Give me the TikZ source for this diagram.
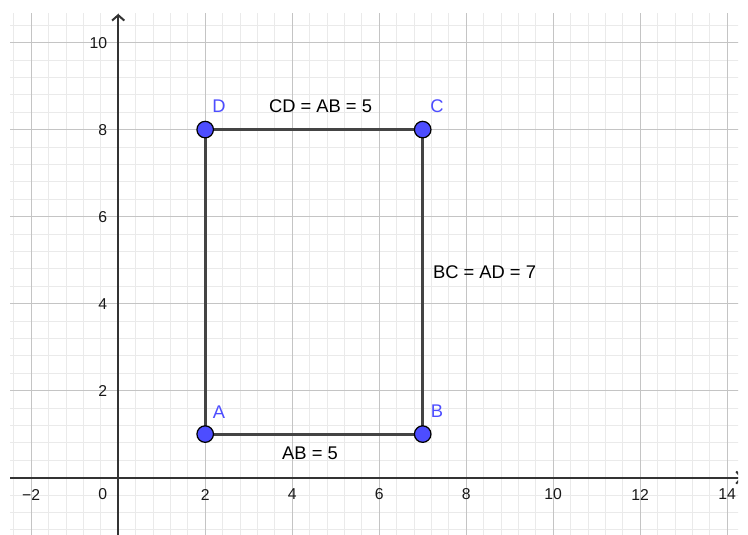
\documentclass[tikz,border=0pt]{standalone}
\usepackage{fontspec}
\setmainfont{Liberation Sans}
\usetikzlibrary{arrows.meta}
\definecolor{ptblue}{HTML}{4D4DFF}
\definecolor{seggray}{HTML}{444444}
\definecolor{axisgray}{HTML}{333333}
\definecolor{majorgray}{HTML}{C4C4C4}
\definecolor{minorgray}{HTML}{EAEAEA}
\begin{document}
\begin{tikzpicture}[x=1cm,y=1cm,
  pt/.style={circle, fill=ptblue, draw=black, line width=0.8pt, minimum size=0.38cm, inner sep=0pt},
  ptlabel/.style={text=ptblue, font=\fontsize{12}{14}\selectfont, inner sep=0pt},
  seglabel/.style={text=black, font=\fontsize{12}{14}\selectfont, inner sep=0pt},
  ticklabel/.style={text=black!90, font=\fontsize{10.3}{12}\selectfont, inner sep=0pt},
  seg/.style={draw=seggray, line width=2pt},
  minorline/.style={draw=minorgray, line width=0.6pt},
  majorline/.style={draw=majorgray, line width=0.9pt},
  axisline/.style={draw=axisgray, line width=1.3pt},
]
\useasboundingbox (-2.717,-1.3195) rectangle (14.478,10.979);
\begin{scope}
\clip (-2.487,-1.3195) rectangle (14.25,10.68);
\draw[minorline] (-2.8,-1.6) grid[step=0.4] (14.8,11.2);
\draw[majorline] (-4,-2) grid[step=2] (16,12);
\coordinate (xs) at (-3,0);
\coordinate (xe) at (14.36,0);
\coordinate (ys) at (0,-2);
\coordinate (ye) at (0,10.66);
\draw[axisline, -{Straight Barb[length=3.5pt,width=8pt]}] (xs) -- (xe);
\draw[axisline, -{Straight Barb[length=3.5pt,width=8pt]}] (ys) -- (ye);
\end{scope}
% tick labels
\foreach \v/\t in {-2/{−2},2/2,4/4,6/6,8/8,10/10,12/12,14/14}{
  \node[ticklabel] (xl\v) at (\v,-0.389) {\t};
}
\node[ticklabel] (xl0) at (-0.356,-0.389) {0};
\foreach \v in {2,4,6,8,10}{
  \node[ticklabel, anchor=east] (yl\v) at (-0.246,\v) {\v};
}
% rectangle
\coordinate (A) at (2,1);
\coordinate (B) at (7,1);
\coordinate (C) at (7,8);
\coordinate (D) at (2,8);
\draw[seg] (A) -- (B);
\draw[seg] (B) -- (C);
\draw[seg] (C) -- (D);
\draw[seg] (D) -- (A);
\node[pt] (pA) at (A) {};
\node[pt] (pB) at (B) {};
\node[pt] (pC) at (C) {};
\node[pt] (pD) at (D) {};
\node[ptlabel] (lA) at (2.317,1.508) {A};
\node[ptlabel] (lB) at (7.329,1.531) {B};
\node[ptlabel] (lC) at (7.329,8.543) {C};
\node[ptlabel] (lD) at (2.317,8.527) {D};
\node[seglabel] (lCD) at (4.651,8.549) {CD = AB = 5};
\node[seglabel] (lBC) at (8.421,4.733) {BC = AD = 7};
\node[seglabel] (lAB) at (4.409,0.566) {AB = 5};
\end{tikzpicture}
\end{document}
